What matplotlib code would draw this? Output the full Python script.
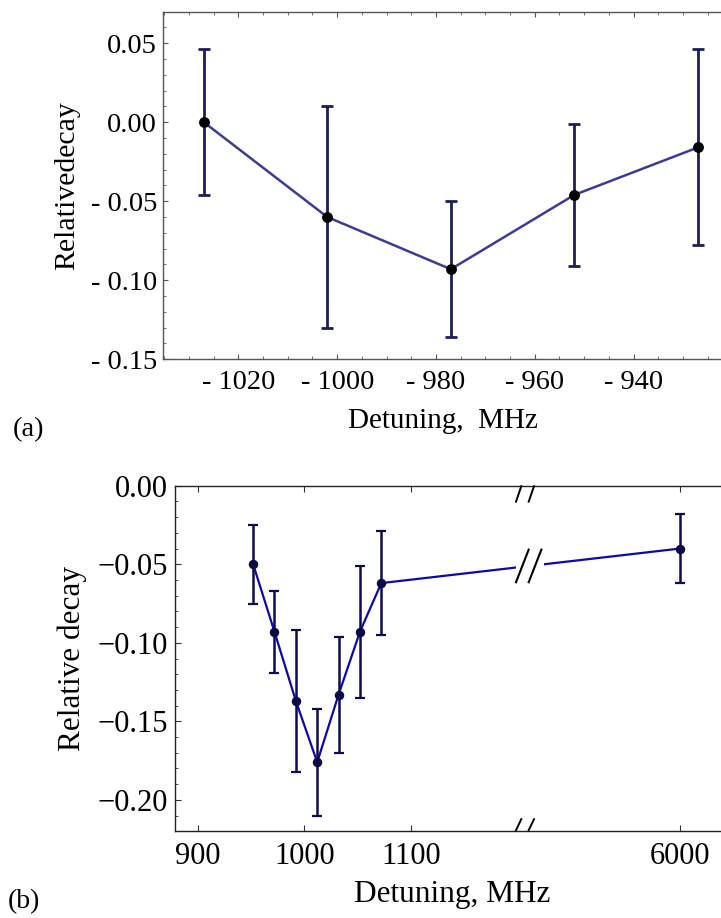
import numpy as np
import matplotlib
matplotlib.use('Agg')
import matplotlib.pyplot as plt
from matplotlib.ticker import FixedLocator, MultipleLocator, FuncFormatter
from matplotlib.lines import Line2D
from matplotlib.patches import Rectangle
from matplotlib.transforms import IdentityTransform

plt.rcParams['font.family'] = ['Liberation Serif', 'DejaVu Serif']
plt.rcParams['mathtext.fontset'] = 'stix'

# ---------------- data ----------------
# panel (a)
det_a = [-1027, -1002, -977, -952, -927]
decay_a = [0.000, -0.060, -0.093, -0.046, -0.016]
err_a = [0.046, 0.070, 0.043, 0.045, 0.062]
xticks_a = [-1020, -1000, -980, -960, -940]
yticks_a = [-0.15, -0.10, -0.05, 0.00, 0.05]

# panel (b)
det_b = [952, 972, 992, 1012, 1032, 1052, 1072, 6000]
decay_b = [-0.050, -0.093, -0.137, -0.176, -0.133, -0.093, -0.062, -0.040]
err_b = [0.025, 0.026, 0.045, 0.034, 0.037, 0.042, 0.033, 0.022]
xticks_b = [900, 1000, 1100, 6000]
yticks_b = [-0.20, -0.15, -0.10, -0.05, 0.00]

W, H = 721, 918
fig = plt.figure(figsize=(W / 100, H / 100), dpi=100)

# ---------------- panel (a) ----------------
ax1 = fig.add_axes([0.2265, 0.6086, 0.779, 0.3783])
ax1.plot(det_a, decay_a, color='#3b3b9e', lw=1.8, zorder=2)
ax1.errorbar(det_a, decay_a, yerr=err_a, fmt='none', ecolor='#1c1c5e',
             elinewidth=2.0, capsize=4.2, capthick=2.0, zorder=3)
ax1.plot(det_a, decay_a, 'o', color='black', ms=6.8, zorder=4)
ax1.set_xlim(-1035.2, -921.5)
ax1.set_ylim(-0.15, 0.0697)
ax1.xaxis.set_major_locator(FixedLocator(xticks_a))
ax1.xaxis.set_minor_locator(MultipleLocator(5))
ax1.yaxis.set_major_locator(FixedLocator(yticks_a))
ax1.yaxis.set_minor_locator(MultipleLocator(0.01))
ax1.xaxis.set_major_formatter(FuncFormatter(
    lambda v, p: ('- ' if v < 0 else '') + f'{abs(v):.0f}'))
ax1.yaxis.set_major_formatter(FuncFormatter(
    lambda v, p: ('- ' if v < -1e-9 else '') + f'{abs(v):.2f}'))
for s in ax1.spines.values():
    s.set_color('#555555')
    s.set_linewidth(1.0)
ax1.spines['right'].set_visible(False)
ax1.tick_params(which='both', direction='in', top=True, right=False,
                color='#555555', labelsize=20.5)
ax1.tick_params(which='major', length=3.5, width=0.8)
ax1.tick_params(which='minor', length=2.0, width=0.6)
ax1.tick_params(axis='y', pad=4.5)
ax1.tick_params(axis='x', pad=8)
ax1.set_xlabel('Detuning,  MHz', fontsize=21, va='baseline')
ax1.xaxis.set_label_coords(0.497, (359.3 - 428) / 346.7)
ax1.set_ylabel('Relativedecay', fontsize=21.5, va='center')
ax1.yaxis.set_label_coords((67 - 163.3) / 561.7, 0.5)
fig.text(13 / W, 1 - 430 / H, '(a)', fontsize=20.5, va='center', ha='left')

# ---------------- panel (b) ----------------
B = 1211.0
K = (1351.7 - B) / (6000.0 - B)


def fwd(x):
    x = np.asarray(x, dtype=float)
    return np.where(x <= B, x, B + (x - B) * K)


def inv(t):
    t = np.asarray(t, dtype=float)
    return np.where(t <= B, t, B + (t - B) / K)


ax2 = fig.add_axes([0.2427, 0.0951, 0.7628, 0.3758])
ax2.set_xscale('function', functions=(fwd, inv))
ax2.plot(det_b, decay_b, color='#0a0aae', lw=1.6, zorder=2)
ax2.errorbar(det_b, decay_b, yerr=err_b, fmt='none', ecolor='#0c0c55',
             elinewidth=1.8, capsize=3.6, capthick=1.6, zorder=3)
ax2.plot(det_b, decay_b, 'o', color='#0a0a45', ms=5.8, zorder=4)
ax2.set_xlim(878.8, 7436)
ax2.set_ylim(-0.2196, 0.0)
ax2.xaxis.set_major_locator(FixedLocator(xticks_b))
ax2.xaxis.set_minor_locator(FixedLocator([]))
ax2.yaxis.set_major_locator(FixedLocator(yticks_b))
ax2.yaxis.set_minor_locator(MultipleLocator(0.01))
ax2.xaxis.set_major_formatter(FuncFormatter(lambda v, p: f'{v:.0f}'))
ax2.yaxis.set_major_formatter(FuncFormatter(
    lambda v, p: ('\u2212' if v < -1e-9 else '') + f'{abs(v):.2f}'))
for s in ax2.spines.values():
    s.set_color('#222222')
    s.set_linewidth(1.0)
ax2.spines['right'].set_visible(False)
ax2.tick_params(which='both', direction='in', top=True, right=False,
                color='#333333', labelsize=22)
ax2.tick_params(which='major', length=4, width=0.8)
ax2.tick_params(which='minor', length=2.2, width=0.6)
ax2.tick_params(axis='y', pad=5)
ax2.tick_params(axis='x', pad=8)
ax2.set_xlabel('Detuning, MHz', fontsize=22.5, va='baseline')
ax2.xaxis.set_label_coords(0.504, (830.7 - 901.7) / 345)
ax2.set_ylabel('Relative decay', fontsize=22.5, va='center')
ax2.yaxis.set_label_coords((72 - 175) / 550, 0.5)
fig.text(8 / W, 1 - 902 / H, '(b)', fontsize=20, va='center', ha='left')

# ---- axis-break marks (drawn in display pixels) ----
fig.canvas.draw()
bx, _ = ax2.transData.transform((B, 0))
bx = bx - 1
ax_bb = ax2.get_window_extent()
top_y, bot_y = ax_bb.y1, ax_bb.y0
# y of the connecting line at the break
tb = float(fwd(B))
y_line = np.interp(tb, fwd(det_b[-2:]), decay_b[-2:])
_, ly = ax2.transData.transform((B, y_line))

ident = IdentityTransform()
gap = Rectangle((bx - 13, ly - 9), 28.5, 18, transform=ident,
                facecolor='white', edgecolor='none', zorder=5)
fig.add_artist(gap)
for dx in (-12.7, 0.0):
    # on the data line
    fig.add_artist(Line2D([bx + dx, bx + dx + 12.7], [ly - 16.3, ly + 16.3],
                          transform=ident, color='black', lw=1.5, zorder=6))
    # top spine
    fig.add_artist(Line2D([bx + dx, bx + dx + 5.3], [top_y - 16, top_y - 0.5],
                          transform=ident, color='black', lw=1.4, zorder=6))
    # bottom spine
    fig.add_artist(Line2D([bx + dx, bx + dx + 5.3], [bot_y + 0.5, bot_y + 11.5],
                          transform=ident, color='black', lw=1.4, zorder=6))

fig.savefig('out.png', dpi=100)
